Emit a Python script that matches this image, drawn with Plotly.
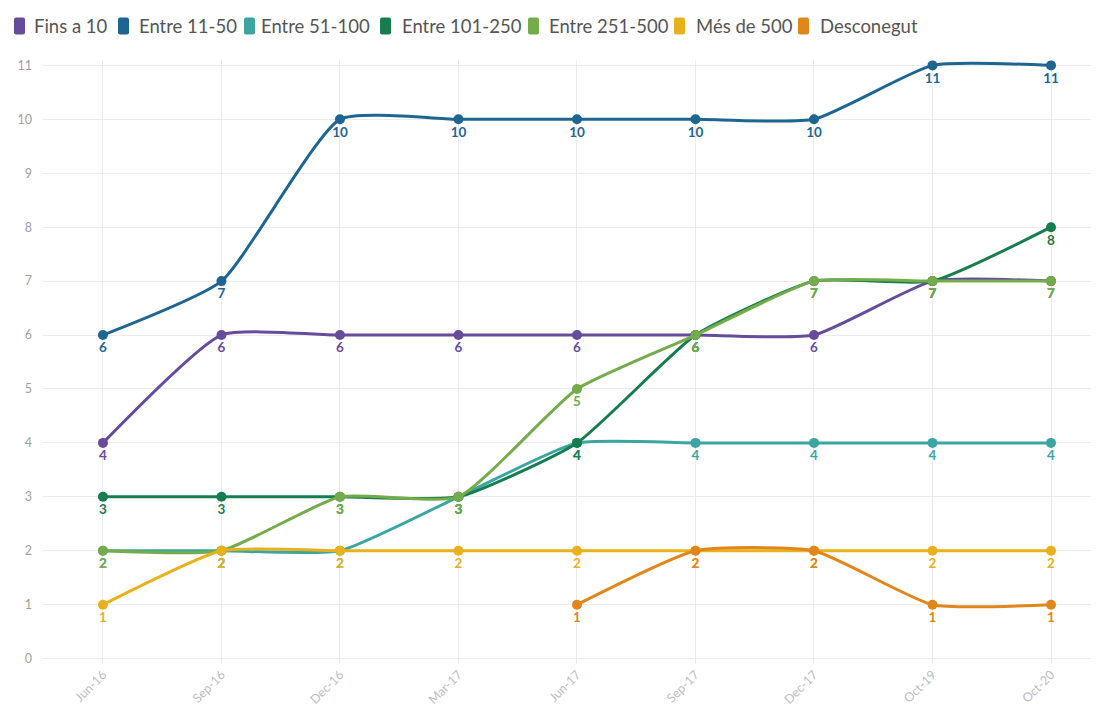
import plotly.graph_objects as go

# Trimestres / dates
periods = ["Jun-16", "Sep-16", "Dec-16", "Mar-17", "Jun-17", "Sep-17", "Dec-17", "Oct-19", "Oct-20"]

fins_10 = [4, 6, 6, 6, 6, 6, 6, 7, 7]
entre_11_50 = [6, 7, 10, 10, 10, 10, 10, 11, 11]
entre_51_100 = [2, 2, 2, 3, 4, 4, 4, 4, 4]
entre_101_250 = [3, 3, 3, 3, 4, 6, 7, 7, 8]
entre_251_500 = [2, 2, 3, 3, 5, 6, 7, 7, 7]
mes_500 = [1, 2, 2, 2, 2, 2, 2, 2, 2]
desconegut = [None, None, None, None, 1, 2, 2, 1, 1]

series = [
    ("Fins a 10", fins_10, "#674c9b"),
    ("Entre 11-50", entre_11_50, "#1f6592"),
    ("Entre 51-100", entre_51_100, "#3ba5a2"),
    ("Entre 101-250", entre_101_250, "#167d4f"),
    ("Entre 251-500", entre_251_500, "#74ac4b"),
    ("Més de 500", mes_500, "#e9b11c"),
    ("Desconegut", desconegut, "#e0861b"),
]

# the page body adds an 8px margin, compensate for it
PAGE_OFF = 8
W, H = 1099, 713
ML, MT = 43 - PAGE_OFF, 60 - PAGE_OFF
plot_w, plot_h = 1056, 604
MR = W - ML - plot_w
MB = H - MT - plot_h


def px_x(px):
    return (px - PAGE_OFF - ML) / plot_w


def px_y(py):
    return (MT + plot_h - (py - PAGE_OFF)) / plot_h


fig = go.Figure()

for name, vals, color in series:
    fig.add_trace(go.Scatter(
        x=periods, y=vals, name=name,
        mode="lines+markers+text",
        line=dict(color=color, width=3, shape="spline", smoothing=0.5),
        marker=dict(color=color, size=10),
        text=[("" if v is None else str(v)) for v in vals],
        textposition="bottom center",
        textfont=dict(color=color, size=13.5, family="Lato", weight="bold"),
        showlegend=False,
        hoverinfo="x+y+name",
    ))

# hand made legend (tall rounded swatches like the original)
swatch_left = [14, 118, 244, 380, 528, 674, 798]
text_left = [32, 137, 259, 400, 547, 694, 818]
legend_y = 26
swatch_path = "M 2,-8.5 L 9,-8.5 Q 11,-8.5 11,-6.5 L 11,6.5 Q 11,8.5 9,8.5 L 2,8.5 Q 0,8.5 0,6.5 L 0,-6.5 Q 0,-8.5 2,-8.5 Z"
for (name, vals, color), sx, tx in zip(series, swatch_left, text_left):
    fig.add_shape(
        type="path", path=swatch_path,
        xref="paper", yref="paper",
        xsizemode="pixel", ysizemode="pixel",
        xanchor=px_x(sx), yanchor=px_y(legend_y),
        fillcolor=color, line=dict(width=0),
    )
    fig.add_annotation(
        text=name, xref="paper", yref="paper",
        x=px_x(tx), y=px_y(legend_y), xanchor="left", yanchor="middle",
        showarrow=False, font=dict(size=18.5, color="#555", family="Lato"),
    )

fig.update_layout(
    width=W, height=H,
    margin=dict(l=ML, r=MR, t=MT, b=MB),
    plot_bgcolor="white",
    paper_bgcolor="white",
    font=dict(family="Lato", color="#555"),
    showlegend=False,
    xaxis=dict(
        type="category", range=[-0.506, 8.405], automargin=False,
        showgrid=True, gridcolor="#ececec", gridwidth=1,
        tickangle=-45, tickfont=dict(size=12.5, color="#bdbdbd"),
        zeroline=False, showline=False, ticks="",
    ),
    yaxis=dict(
        range=[-0.1, 11.1], dtick=1, automargin=False,
        showgrid=True, gridcolor="#ececec", gridwidth=1,
        tickfont=dict(size=12.5, color="#a0a0a0"),
        zeroline=False, showline=False, ticks="", ticklabelstandoff=10,
    ),
)

fig.write_html("out.html")
